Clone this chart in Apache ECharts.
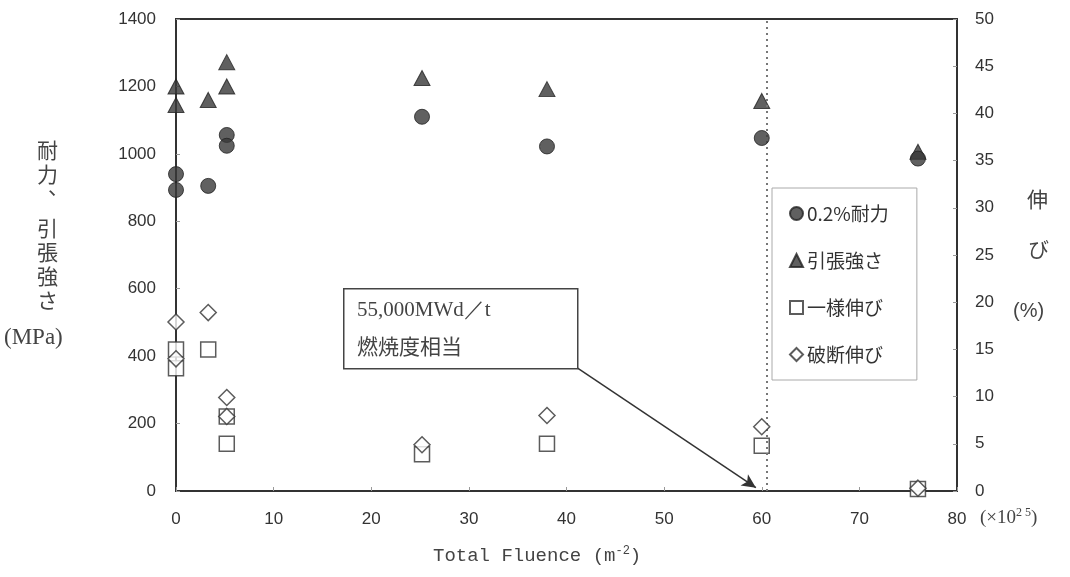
<!DOCTYPE html>
<html><head><meta charset="utf-8">
<script src="https://cdn.jsdelivr.net/npm/echarts@6/dist/echarts.min.js"></script>
<style>html,body{margin:0;padding:0;background:#fff}#c{width:1070px;height:577px}</style>
</head><body><div id="c"></div>
<script>
// Fluence (x10^25 m^-2) and values
const proofStress = [[0,940],[0,893],[3.3,905],[5.2,1056],[5.2,1024],[25.2,1110],[38,1022],[60,1047],[76,986]];
const tensileStrength = [[0,1200],[0,1145],[3.3,1160],[5.2,1272],[5.2,1200],[25.2,1225],[38,1192],[60,1157],[76,1006]];
const uniformElong = [[0,15.0],[0,13.0],[3.3,15.0],[5.2,7.9],[5.2,5.0],[25.2,3.9],[38,5.0],[60,4.8],[76,0.2]];
const totalElong = [[0,17.9],[0,14.0],[3.3,18.9],[5.2,9.9],[5.2,7.9],[25.2,4.9],[38,8.0],[60,6.8],[76,0.3]];
const seriesNames = ['0.2%耐力','引張強さ','一様伸び','破断伸び'];
const xTicks = {min:0, max:80, interval:10};
const yLeftTicks = {min:0, max:1400, interval:200};
const yRightTicks = {min:0, max:50, interval:5};
const burnupLineX = 60.5;
const arrowFrom = [41.1, 365];
const arrowTo = [59.4, 10];

const chart = echarts.init(document.getElementById('c'));
const lab = {color:'#333', fontSize:17, fontFamily:'Liberation Sans, Arial, sans-serif', formatter:v=>String(v)};
const axLine = {show:true, lineStyle:{color:'#333', width:2}};
const tick = {show:true, inside:true, length:4, lineStyle:{color:'#999'}};
const dark = {color:'#383838', borderColor:'#222', borderWidth:1};
const hollow = {color:'#fff', borderColor:'#333', borderWidth:1.5};
const cjk = '"Noto Sans CJK JP", sans-serif';
chart.setOption({
  animation:false,
  backgroundColor:'#fff',
  grid:{left:176, right:113, top:19, bottom:86, show:true, borderColor:'#333', borderWidth:2, backgroundColor:'transparent'},
  xAxis:{type:'value', min:xTicks.min, max:xTicks.max, interval:xTicks.interval, axisLine:axLine, axisTick:tick, splitLine:{show:false}, axisLabel:Object.assign({margin:20}, lab)},
  yAxis:[
    {type:'value', min:yLeftTicks.min, max:yLeftTicks.max, interval:yLeftTicks.interval, axisLine:axLine, axisTick:tick, splitLine:{show:false}, axisLabel:Object.assign({margin:20}, lab)},
    {type:'value', position:'right', min:yRightTicks.min, max:yRightTicks.max, interval:yRightTicks.interval, axisLine:axLine, axisTick:tick, splitLine:{show:false}, axisLabel:Object.assign({margin:18}, lab)}
  ],
  legend:{
    orient:'vertical', left:772, top:188,
    data:seriesNames, itemWidth:13, itemHeight:13, itemGap:28,
    padding:[16,28,16,17], borderColor:'#aaa', borderWidth:1, backgroundColor:'#fff',
    textStyle:{fontSize:19, color:'#333', fontFamily:cjk, padding:[0,0,0,-1]}
  },
  series:[
    {name:seriesNames[0], type:'scatter', yAxisIndex:0, data:proofStress, symbol:'circle', symbolSize:15, itemStyle:dark, z:5,
      markLine:{silent:true, symbol:['none','none'], label:{show:false}, lineStyle:{color:'#777', type:[2,4], width:2}, data:[{xAxis:burnupLineX}]}},
    {name:seriesNames[1], type:'scatter', yAxisIndex:0, data:tensileStrength, symbol:'triangle', symbolSize:[16,15], itemStyle:dark, z:4,
      markLine:{silent:true, symbol:['none','arrow'], symbolSize:[10,14], label:{show:false}, lineStyle:{color:'#333', type:'solid', width:1.5},
        data:[[{coord:arrowFrom},{coord:arrowTo}]]}},
    {name:seriesNames[2], type:'scatter', yAxisIndex:1, data:uniformElong, symbol:'rect', symbolSize:15, itemStyle:hollow, z:4},
    {name:seriesNames[3], type:'scatter', yAxisIndex:1, data:totalElong, symbol:'diamond', symbolSize:[16,16], itemStyle:hollow, z:6}
  ],
  graphic:[
    {type:'rect', left:343, top:288, shape:{width:234, height:80}, style:{fill:'#fff', stroke:'#444', lineWidth:1.5}, z:10},
    {type:'text', left:357, top:300, style:{text:'55,000MWd／t', fill:'#444', font:'21px "Liberation Serif", serif'}, z:11},
    {type:'text', left:357, top:336, style:{text:'燃焼度相当', fill:'#444', font:'21px ' + cjk}, z:11},
    {type:'text', left:37, top:140, style:{text:'耐', fill:'#444', font:'21px ' + cjk}, z:11},
    {type:'text', left:37, top:164, style:{text:'力', fill:'#444', font:'21px ' + cjk}, z:11},
    {type:'text', left:48, top:176, style:{text:'、', fill:'#444', font:'21px ' + cjk}, z:11},
    {type:'text', left:37, top:218, style:{text:'引', fill:'#444', font:'21px ' + cjk}, z:11},
    {type:'text', left:37, top:242, style:{text:'張', fill:'#444', font:'21px ' + cjk}, z:11},
    {type:'text', left:37, top:266, style:{text:'強', fill:'#444', font:'21px ' + cjk}, z:11},
    {type:'text', left:37, top:290, style:{text:'さ', fill:'#444', font:'21px ' + cjk}, z:11},
    {type:'text', left:4, top:326, style:{text:'(MPa)', fill:'#444', font:'23px "Liberation Serif", serif'}, z:11},
    {type:'text', left:1027, top:189, style:{text:'伸', fill:'#444', font:'21px ' + cjk}, z:11},
    {type:'text', left:1028, top:239, style:{text:'び', fill:'#444', font:'21px ' + cjk}, z:11},
    {type:'text', left:1013, top:301, style:{text:'(%)', fill:'#444', font:'20px "Liberation Sans", sans-serif'}, z:11},
    {type:'text', left:433, top:545, style:{
      text:'{a|Total Fluence (m}{s|-2}{a|)}',
      rich:{a:{fontSize:19, fontFamily:'Liberation Mono, monospace', fill:'#444'},
            s:{fontSize:12, fontFamily:'Liberation Mono, monospace', fill:'#444', padding:[0,0,10,0]}}}, z:11},
    {type:'text', left:980, top:507, style:{
      text:'{a|(×10}{s|2 5}{a|)}',
      rich:{a:{fontSize:19, fontFamily:'Liberation Serif, serif', fill:'#444'},
            s:{fontSize:12, fontFamily:'Liberation Serif, serif', fill:'#444', padding:[0,0,10,0]}}}, z:11}
  ]
});
</script></body></html>
